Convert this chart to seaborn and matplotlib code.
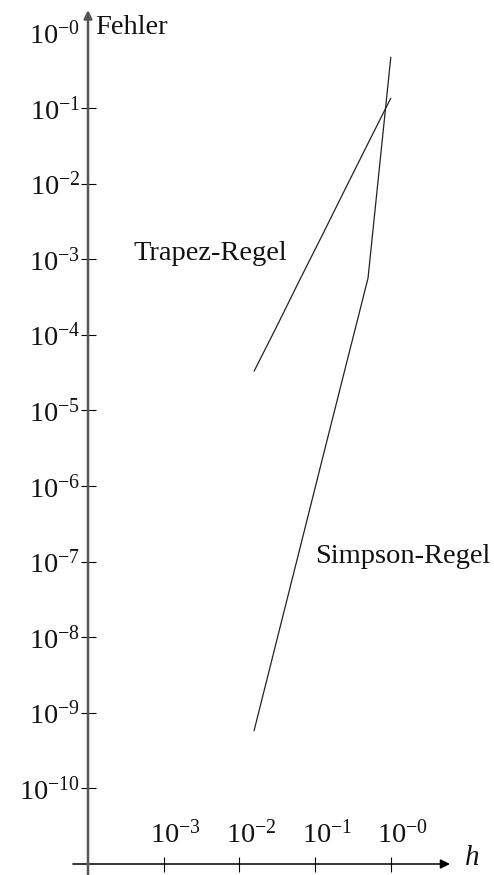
#Fehler der Trapez- und Simpson-Regel (log-log)
import numpy as np
import pandas as pd
import matplotlib
matplotlib.use('Agg')
import matplotlib.pyplot as plt
import matplotlib.transforms as mtransforms
import seaborn as sns

#values
h = [1.0, 0.5, 0.25, 0.125, 0.0625, 0.03125, 0.015625]
trapez = [0.135, 0.034, 0.0085, 0.0021, 0.00053, 0.00013, 0.000033]
simpson = [0.47, 5.6e-4, 3.6e-5, 2.3e-6, 1.45e-7, 9.2e-9, 5.8e-10]

xticks = [1e-3, 1e-2, 1e-1, 1e0]
xticklabels = [r'$10^{-3}$', r'$10^{-2}$', r'$10^{-1}$', r'$10^{-0}$']
yticks = [10.0**-k for k in range(10, -1, -1)]
yticklabels = [r'$10^{-%d}$' % k for k in range(10, -1, -1)]

sns.set_style('white')
plt.rcParams['font.family'] = ['Liberation Serif', 'DejaVu Serif']
plt.rcParams['mathtext.fontset'] = 'custom'
plt.rcParams['mathtext.rm'] = 'Liberation Serif'
plt.rcParams['mathtext.it'] = 'Liberation Serif:italic'

df = pd.DataFrame({'h': h, 'Trapez': trapez, 'Simpson': simpson})

fig = plt.figure(figsize=(4.94, 8.75), dpi=100)
ax = fig.add_axes([0, 0, 1, 1])
ax.set(xscale='log', yscale='log')
ax.set_xlim(10**-5.1625, 10**1.3633)
ax.set_ylim(10**-11.1455, 10**0.4286)

sns.lineplot(data=df, x='h', y='Trapez', color='#222222', lw=0.9, ax=ax)
sns.lineplot(data=df, x='h', y='Simpson', color='#222222', lw=0.9, ax=ax)

#axes crossing at h=1e-4, Fehler=1e-11
ax.spines['left'].set_position(('data', 1e-4))
ax.spines['bottom'].set_position(('data', 1e-11))
for s in ax.spines.values():
    s.set_visible(False)
ax.annotate('', xy=(10**0.782, 1e-11), xytext=(10**-4.2, 1e-11),
            arrowprops=dict(arrowstyle='-|>', color='black', lw=1.1,
                            mutation_scale=14, shrinkA=0, shrinkB=0))
ax.annotate('', xy=(1e-4, 10**0.296), xytext=(1e-4, 10**-11.2),
            arrowprops=dict(arrowstyle='-|>', color='#555555', lw=1.8,
                            mutation_scale=12, shrinkA=0, shrinkB=0))

ax.set_xticks(xticks)
ax.set_xticklabels(xticklabels)
ax.set_yticks(yticks)
ax.set_yticklabels(yticklabels)
ax.minorticks_off()
ax.tick_params(axis='both', which='major', direction='inout', length=10.8,
               width=0.8, color='black', labelsize=20.5, labelcolor='#111111',
               bottom=True, left=True)
ax.tick_params(axis='x', pad=-37)
ax.tick_params(axis='y', pad=0)
ax.yaxis.get_major_ticks()[-1].tick1line.set_visible(False)

off = mtransforms.ScaledTranslation(0.12, 0, fig.dpi_scale_trans)
for lab in ax.get_xticklabels():
    lab.set_transform(lab.get_transform() + off)

ax.text(10**-3.9075, 10**-0.0212, 'Fehler', fontsize=20.5, va='baseline', color='#111111')
ax.text(10**-3.4055, 10**-3.0106, 'Trapez-Regel', fontsize=20.5, va='baseline', color='#111111')
ax.text(10**-1.0013, 10**-7.0185, 'Simpson-Regel', fontsize=20.5, va='baseline', color='#111111')
ax.text(10**0.98, 10**-11.013, 'h', fontsize=21, style='italic', va='baseline', color='#111111')
ax.set_xlabel('')
ax.set_ylabel('')

fig.savefig('out.png', dpi=100)
